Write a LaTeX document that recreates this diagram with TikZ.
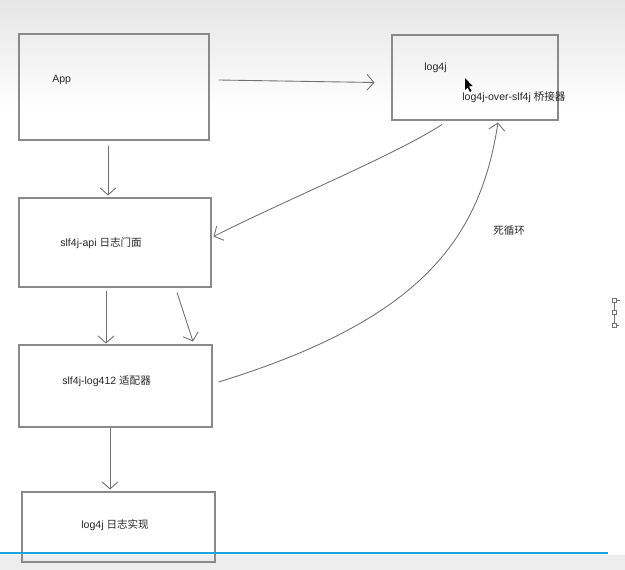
\documentclass[tikz,border=0pt]{standalone}
\usepackage{fontspec}
\setmainfont{Liberation Sans}
\newfontfamily\cjk{Noto Sans CJK SC}
\usetikzlibrary{arrows.meta,calc}

\definecolor{boxline}{HTML}{8A8A8A}
\definecolor{penline}{HTML}{707070}
\definecolor{barblue}{HTML}{1DA3E0}

\tikzset{
  box/.style={draw=boxline, line width=0.6pt, rectangle, inner sep=0pt},
  lbl/.style={anchor=west, inner sep=0pt, font=\fontsize{6}{7}\selectfont, text=black!85},
  pen/.style={draw=penline, line width=0.5pt, -{Straight Barb[length=1.4mm,width=3.2mm]}}
}

\begin{document}
\begin{tikzpicture}[x=0.02cm, y=-0.02cm]
        \useasboundingbox (0,0) rectangle (625,570);
        \shade[top color=black!10, bottom color=white] (0,0) rectangle (625,110);
        \fill[black!7] (0,555) rectangle (625,570);

        \node[box, minimum width=3.8cm, minimum height=2.12cm] (app) at (114,87) {};
        \node[box, minimum width=3.32cm, minimum height=1.7cm] (log4j) at (475,77.5) {};
        \node[box, minimum width=3.84cm, minimum height=1.78cm] (api) at (115,242.5) {};
        \node[box, minimum width=3.86cm, minimum height=1.64cm] (adapter) at (115.5,386) {};
        \node[box, minimum width=3.86cm, minimum height=1.4cm] (impl) at (118.5,527) {};

        \node[lbl] (apptext) at (52,80) {App};
        \node[lbl] (log4jtext) at (424,68) {log4j};
        \node[lbl] (bridgetext) at (462,97) {log4j-over-slf4j {\cjk 桥接器}};
        \node[lbl] (apitext) at (60,243) {slf4j-api {\cjk 日志门面}};
        \node[lbl] (adaptertext) at (62,381) {slf4j-log412 {\cjk 适配器}};
        \node[lbl] (impltext) at (81,525) {log4j {\cjk 日志实现}};
        \node[lbl] (looptext) at (493,231) {\cjk 死循环};

        \draw[pen] ($(app.east)+(9,-7)$) -- ($(log4j.west)+(-17,5)$);
        \draw[pen] ($(app.south)+(-6,5)$) -- ($(api.north)+(-7,-2)$);
        \draw[pen] ($(log4j.south)+(-33,4)$) .. controls (395,155) and (290,198) .. ($(api.east)+(2,-6)$);
        \draw[pen] ($(api.south)+(-9,3)$) -- ($(adapter.north)+(-9.5,-1)$);
        \draw[pen] ($(api.south)+(62,5)$) -- ($(adapter.north)+(77.5,-3)$);
        \draw[pen] ($(adapter.east)+(6,-4)$) .. controls (420,320) and (480,240) .. ($(log4j.south)+(23,2)$);
        \draw[pen] ($(adapter.south)+(-5.5,0)$) -- ($(impl.north)+(-8.5,-2)$);

        \fill[black] (465,78) -- (465,90) -- (467.5,87.5) -- (470,92) -- (471.5,91) -- (469,86.5) -- (472.5,86) -- cycle;

        \draw[barblue, line width=1.7pt] (0,553) -- (608,553);

        \draw[black!55, line width=0.4pt] (614,302) -- (614,324);
        \foreach \hy in {300,312.5,325} {
            \filldraw[draw=black!55, fill=white, line width=0.4pt] (612,\hy-2) rectangle (616,\hy+2);
        }
        \draw[black!55, line width=0.4pt] (617,300) -- (620,300) (617,325) -- (619,325);
    \end{tikzpicture}
\end{document}
